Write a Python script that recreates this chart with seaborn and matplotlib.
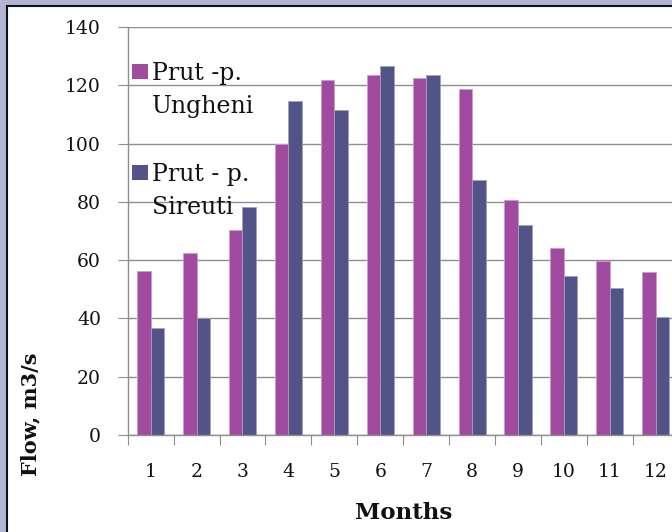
import matplotlib
matplotlib.use("Agg")
import matplotlib.pyplot as plt
import seaborn as sns
import pandas as pd
import numpy as np
from matplotlib.patches import Patch, Rectangle
from matplotlib.lines import Line2D
from matplotlib.ticker import FixedLocator
from matplotlib.colors import to_rgb

# ---- data ----
months = ["1", "2", "3", "4", "5", "6", "7", "8", "9", "10", "11", "12"]
ungheni = [56.4, 62.5, 70.4, 99.8, 121.8, 123.5, 122.6, 118.7, 80.8, 64.2, 59.7, 55.9]
sireuti = [36.6, 40.0, 78.2, 114.7, 111.6, 126.6, 123.5, 87.4, 72.2, 54.6, 50.6, 40.6]
series_names = ["Prut -p. Ungheni", "Prut - p. Sireuti"]
legend_lines = [["Prut -p.", "Ungheni"], ["Prut - p.", "Sireuti"]]
y_ticks = [0, 20, 40, 60, 80, 100, 120, 140]
y_label = "Flow, m3/s"
x_label = "Months"

purple = "#A04BA0"
navy = "#525488"
grid_col = "#8e8e8e"

df = pd.DataFrame({
    "Month": months * 2,
    "Flow": ungheni + sireuti,
    "Station": [series_names[0]] * len(months) + [series_names[1]] * len(months),
})

sns.set_theme(style="white")
plt.rcParams["font.family"] = ["DejaVu Serif"]

W, H = 672, 532
fig = plt.figure(figsize=(W / 100, H / 100), dpi=100, facecolor="#b3b4d4")
# white panel with black frame on top and left (cropped at right and bottom)
x0, y0 = 7 / W, 1 - 6.2 / H
fig.add_artist(Rectangle((x0, -0.05), 1.1 - x0, y0 + 0.05, transform=fig.transFigure,
                         facecolor="white", edgecolor="none", zorder=-5))
fig.add_artist(Line2D([x0, x0], [-0.05, y0], transform=fig.transFigure, color="#111111",
                      lw=1.5, zorder=-4, solid_capstyle="projecting"))
fig.add_artist(Line2D([x0, 1.05], [y0, y0], transform=fig.transFigure, color="#111111",
                      lw=1.5, zorder=-4, solid_capstyle="projecting"))

ax = fig.add_axes([127.7 / W, 1 - 435 / H, 551 / W, 408 / H])
ax.set_facecolor("none")

sns.barplot(data=df, x="Month", y="Flow", hue="Station", order=months,
            hue_order=series_names, palette=[purple, navy], width=0.59,
            saturation=1, legend=False, ax=ax, linewidth=0.6)

for p in ax.patches:
    fc = np.array(to_rgb(p.get_facecolor()))
    p.set_edgecolor(tuple(fc + (1 - fc) * 0.45))
    p.set_linewidth(0.6)

ax.set_ylim(0, 140)
ax.set_xlim(-0.5, len(months) - 0.5)
ax.yaxis.set_major_locator(FixedLocator(y_ticks))
ax.grid(axis="y", color=grid_col, lw=1.0)
ax.grid(axis="x", visible=False)
ax.set_axisbelow(True)

for s in ["top", "right"]:
    ax.spines[s].set_visible(False)
for s in ["left", "bottom"]:
    ax.spines[s].set_color(grid_col)
    ax.spines[s].set_linewidth(1.0)

ax.set_xticks(range(len(months)))
ax.set_xticklabels(months)
ax.xaxis.set_minor_locator(FixedLocator(np.arange(-0.5, len(months), 1.0)))
ax.tick_params(axis="x", which="major", length=0, pad=20.5, labelsize=13.5, labelcolor="#111111")
ax.tick_params(axis="x", which="minor", bottom=True, length=7.2, width=0.8, color=grid_col)
ax.tick_params(axis="y", which="major", left=True, length=7, width=0.8, color=grid_col,
               pad=12.2, labelsize=13.5, labelcolor="#111111")

ax.set_xlabel(x_label, fontsize=16.5, fontweight="bold", color="#111111")
ax.xaxis.set_label_coords(0.5, (435 - 513) / 408)
ax.xaxis.label.set_va("center")
ax.set_ylabel(y_label, fontsize=15, fontweight="bold", color="#111111")
ax.yaxis.set_label_coords((30 - 127.7) / 551, (435 - 414) / 408)
ax.yaxis.label.set_va("center")
ax.yaxis.label.set_ha("center")

blank = Patch(facecolor="none", edgecolor="none")
handles = [Patch(facecolor=purple, edgecolor="none"), blank, blank,
           Patch(facecolor=navy, edgecolor="none"), blank]
labels = [legend_lines[0][0], legend_lines[0][1], " ", legend_lines[1][0], legend_lines[1][1]]
leg = ax.legend(handles, labels, loc="upper left", bbox_to_anchor=(0.007, 0.915),
                frameon=False, fontsize=17, handlelength=0.7, handleheight=0.6,
                handletextpad=0.16, labelspacing=0.45, borderpad=0, borderaxespad=0)
for t in leg.get_texts():
    t.set_color("#111111")

fig.savefig("out.png", dpi=100, facecolor=fig.get_facecolor())
